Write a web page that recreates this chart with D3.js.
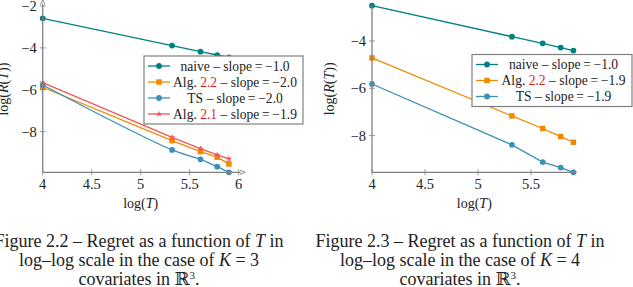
<!DOCTYPE html>
<html>
<head>
<meta charset="utf-8">
<script src="https://cdn.jsdelivr.net/npm/d3@7"></script>
<style>
  body { margin: 0; background: #fff; }
  svg { display: block; font-family: "Liberation Serif", "DejaVu Serif", serif; }
</style>
</head>
<body>
<div id="chart"></div>
<script>
// log10(T) for the runs
const logT = [4, 5.32, 5.61, 5.78, 5.9];

// K = 3 covariates (left figure)
const naiveK3 = [-2.59, -3.89, -4.18, -4.34, -4.45];
const alg22K3 = [-5.88, -8.43, -8.95, -9.22, -9.54];
const tsK3 = [-5.77, -8.87, -9.32, -9.67, -9.94];
const alg21K3 = [-5.66, -8.27, -8.81, -9.11, -9.30];

// K = 4 covariates (right figure)
const naiveK4 = [-2.51, -3.82, -4.10, -4.28, -4.41];
const alg22K4 = [-4.72, -7.17, -7.70, -8.04, -8.28];
const tsK4 = [-5.82, -8.39, -9.12, -9.35, -9.55];

const xTicksK3 = [4, 4.5, 5, 5.5, 6];
const yTicksK3 = [-2, -4, -6, -8];
const xTicksK4 = [4, 4.5, 5, 5.5];
const yTicksK4 = [-4, -6, -8];

const slopesK3 = ["−1.0", "−2.0", "−2.0", "−1.9"];
const slopesK4 = ["−1.0", "−1.9", "−1.9"];

const captionK3 = ["Figure 2.2 – Regret as a function of ", "T", " in", "log–log scale in the case of ", "K", " = 3"];
const captionK4 = ["Figure 2.3 – Regret as a function of ", "T", " in", "log–log scale in the case of ", "K", " = 4"];

const W = 633, H = 287;
const axisColor = "#808080";
const colors = {naive: "#00807f", alg22: "#f08a00", ts: "#3a90b5", alg21: "#f25555"};
const refRed = "#e0231f";
const tickFont = 14.5, capFont = 18;
// widest legend entry should span about this many pixels
const legendTextWidth = 124;

const svg = d3.select("#chart").append("svg")
    .attr("width", W)
    .attr("height", H);

svg.append("defs").append("marker")
    .attr("id", "arrow")
    .attr("viewBox", "0 -4 8 8")
    .attr("refX", 1)
    .attr("refY", 0)
    .attr("markerWidth", 6)
    .attr("markerHeight", 6)
    .attr("markerUnits", "userSpaceOnUse")
    .attr("orient", "auto")
    .append("path")
    .attr("d", "M0,-3L7,0L0,3")
    .attr("fill", "none")
    .attr("stroke", axisColor)
    .attr("stroke-width", 1.2);

function drawPanel(p) {
    const g = svg.append("g");
    const x = d3.scaleLinear().domain(p.xDomain).range(p.xRange);
    const y = d3.scaleLinear().domain(p.yDomain).range(p.yRange);

    // series
    p.series.forEach(s => {
        const pts = logT.map((t, i) => [t, s.values[i]]);
        const line = d3.line()
            .x(d => x(d[0]))
            .y(d => y(d[1]))
            .curve(s.smooth ? d3.curveCatmullRom.alpha(0.5) : d3.curveLinear);
        g.append("path")
            .attr("d", line(pts))
            .attr("fill", "none")
            .attr("stroke", s.color)
            .attr("stroke-width", 1.3);
        g.selectAll(null)
            .data(pts)
            .join("path")
            .attr("transform", d => `translate(${x(d[0])},${y(d[1])})`)
            .attr("d", symbolPath(s.mark))
            .attr("fill", s.color);
    });

    // axes
    const x0 = x.range()[0], x1 = x.range()[1];
    const y0 = y.range()[0], y1 = y.range()[1];
    const ax = g.append("g").attr("stroke", axisColor).attr("stroke-width", 1.3);
    ax.append("line")
        .attr("x1", x0).attr("x2", x1 + (p.arrows ? 2 : 0))
        .attr("y1", y0).attr("y2", y0)
        .attr("marker-end", p.arrows ? "url(#arrow)" : null);
    ax.append("line")
        .attr("x1", x0).attr("x2", x0)
        .attr("y1", y0).attr("y2", y1 - (p.arrows ? 2 : 0))
        .attr("marker-end", p.arrows ? "url(#arrow)" : null);

    ax.selectAll(null).data(p.xTicks).join("line")
        .attr("stroke-width", 0.8)
        .attr("x1", d => x(d)).attr("x2", d => x(d))
        .attr("y1", y0 - 3).attr("y2", y0 + 3);
    ax.selectAll(null).data(p.yTicks).join("line")
        .attr("stroke-width", 0.8)
        .attr("x1", x0 - 3).attr("x2", x0 + 3)
        .attr("y1", d => y(d)).attr("y2", d => y(d));

    g.selectAll(null).data(p.xTicks).join("text")
        .attr("x", d => x(d))
        .attr("y", y0 + 16.5)
        .attr("text-anchor", "middle")
        .attr("font-size", tickFont)
        .attr("fill", "#222")
        .text(d => d3.format("")(d));
    g.selectAll(null).data(p.yTicks).join("text")
        .attr("x", x0 - 6)
        .attr("y", d => y(d) + 5)
        .attr("text-anchor", "end")
        .attr("font-size", tickFont)
        .attr("fill", "#222")
        .text(d => "−" + Math.abs(d));

    // axis labels
    const xl = g.append("text")
        .attr("x", (x0 + x1) / 2)
        .attr("y", y0 + 36)
        .attr("text-anchor", "middle")
        .attr("font-size", 14)
        .attr("fill", "#222");
    xl.append("tspan").text("log(");
    xl.append("tspan").attr("font-style", "italic").text("T");
    xl.append("tspan").text(")");

    const yl = g.append("text")
        .attr("transform", `translate(${p.yLabelX},${(y0 + y1) / 2}) rotate(-90)`)
        .attr("text-anchor", "middle")
        .attr("font-size", 14)
        .attr("fill", "#222");
    yl.append("tspan").text("log(");
    yl.append("tspan").attr("font-style", "italic").text("R");
    yl.append("tspan").text("(");
    yl.append("tspan").attr("font-style", "italic").text("T");
    yl.append("tspan").text("))");

    // legend
    const lg = g.append("g");
    const rowH = 16;
    lg.append("rect")
        .attr("x", p.legend.x).attr("y", p.legend.y)
        .attr("width", p.legend.w)
        .attr("height", p.series.length * rowH + 4)
        .attr("fill", "#fff")
        .attr("stroke", axisColor)
        .attr("stroke-width", 1.2);
    const texts = [];
    p.series.forEach((s, i) => {
        const cy = p.legend.y + 10 + i * rowH;
        const lx = p.legend.x + 4;
        lg.append("line")
            .attr("x1", lx).attr("x2", lx + 22)
            .attr("y1", cy).attr("y2", cy)
            .attr("stroke", s.color).attr("stroke-width", 1.3);
        lg.append("path")
            .attr("transform", `translate(${lx + 11},${cy})`)
            .attr("d", symbolPath(s.mark))
            .attr("fill", s.color);
        const t = lg.append("text")
            .attr("x", p.legend.textX)
            .attr("y", cy + 4.5)
            .attr("text-anchor", "middle")
            .attr("font-size", 13)
            .attr("fill", "#222");
        t.append("tspan").text(s.name);
        if (s.ref) t.append("tspan").attr("fill", refRed).text(s.ref);
        t.append("tspan").text(" – slope\u2009=\u2009" + s.slope);
        texts.push(t);
    });
    // size the legend font so the widest entry fills the box like the original
    const widest = d3.max(texts, t => t.node().getComputedTextLength());
    const fs = Math.min(15, 13 * legendTextWidth / widest);
    texts.forEach(t => t.attr("font-size", fs));

    // caption
    const cap = g.append("g").attr("font-size", capFont).attr("fill", "#222").attr("text-anchor", "middle");
    const c = p.caption;
    const l1 = cap.append("text").attr("x", p.captionX).attr("y", 246.5);
    l1.append("tspan").text(c[0]);
    l1.append("tspan").attr("font-style", "italic").text(c[1]);
    l1.append("tspan").text(c[2]);
    const l2 = cap.append("text").attr("x", p.captionX).attr("y", 265.5);
    l2.append("tspan").text(c[3]);
    l2.append("tspan").attr("font-style", "italic").text(c[4]);
    l2.append("tspan").text(c[5]);
    const l3 = cap.append("text").attr("x", p.captionX).attr("y", 284.5);
    l3.append("tspan").text("covariates in ℝ");
    l3.append("tspan").attr("font-size", 11).attr("dy", -6).text("3");
    l3.append("tspan").attr("dy", 6).text(".");
}

function symbolPath(mark) {
    if (mark === "square") return d3.symbol(d3.symbolSquare, 30)();
    if (mark === "star") return d3.symbol(d3.symbolStar, 14)();
    return d3.symbol(d3.symbolCircle, 26)();
}

drawPanel({
    xDomain: [4, 6], xRange: [42.7, 238.7],
    yDomain: [-9.94, -2], yRange: [172.3, 6],
    xTicks: xTicksK3, yTicks: yTicksK3,
    arrows: true,
    yLabelX: 8,
    legend: {x: 144, y: 56, w: 159, textX: 235},
    captionX: 139,
    caption: captionK3,
    series: [
        {name: "naive", values: naiveK3, color: colors.naive, mark: "circle", slope: slopesK3[0]},
        {name: "Alg. ", ref: "2.2", values: alg22K3, color: colors.alg22, mark: "square", slope: slopesK3[1]},
        {name: "TS", values: tsK3, color: colors.ts, mark: "circle", slope: slopesK3[2], smooth: true},
        {name: "Alg. ", ref: "2.1", values: alg21K3, color: colors.alg21, mark: "star", slope: slopesK3[3]}
    ]
});

drawPanel({
    xDomain: [4, 5.93], xRange: [372, 576.6],
    yDomain: [-9.55, -2.5], yRange: [172.3, 5.4],
    xTicks: xTicksK4, yTicks: yTicksK4,
    arrows: false,
    yLabelX: 334,
    legend: {x: 472, y: 54.5, w: 160, textX: 563.5},
    captionX: 460,
    caption: captionK4,
    series: [
        {name: "naive", values: naiveK4, color: colors.naive, mark: "circle", slope: slopesK4[0]},
        {name: "Alg. ", ref: "2.2", values: alg22K4, color: colors.alg22, mark: "square", slope: slopesK4[1]},
        {name: "TS", values: tsK4, color: colors.ts, mark: "circle", slope: slopesK4[2]}
    ]
});
</script>
</body>
</html>
